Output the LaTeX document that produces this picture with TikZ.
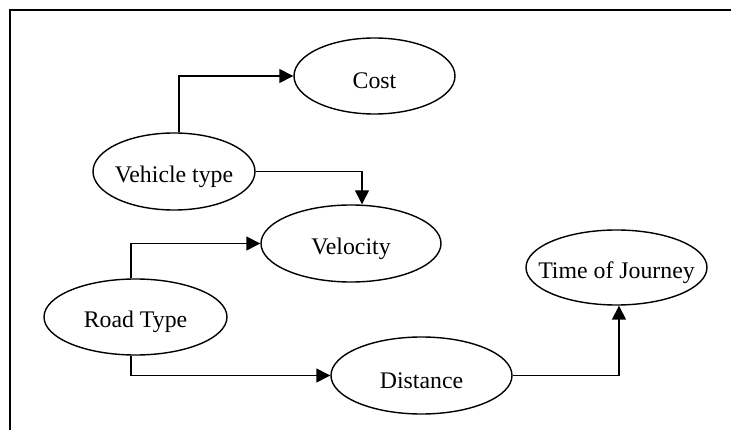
\documentclass[tikz,border=0pt]{standalone}
\usepackage{fontspec}
\setmainfont{Liberation Serif}
\usetikzlibrary{shapes.geometric,arrows.meta}
\begin{document}
\begin{tikzpicture}[x=1pt,y=-1pt,
  bubble/.style={draw,ellipse,line width=1.4pt,inner sep=0pt},
  tag/.style={font=\fontsize{23.8}{28}\selectfont,yshift=-5pt,inner sep=0pt},
  link/.style={line width=1.4pt,-{Triangle[length=14pt,width=14pt]}}]
  \useasboundingbox (0,0) rectangle (731,430);
  % open frame (top and left edges)
  \draw[line width=1.4pt] (10,430) -- (10,10) -- (731,10);
  % factors: fixed-size ellipses with centred captions
  \node[bubble,minimum width=161pt,minimum height=76pt,
        label={[tag]center:Cost}] (cost) at (374.5,76) {};
  \node[bubble,minimum width=162pt,minimum height=77pt,
        label={[tag]center:Vehicle type}] (veh) at (174,171.5) {};
  \node[bubble,minimum width=180pt,minimum height=77pt,
        label={[tag]center:Velocity}] (vel) at (351,243.5) {};
  \node[bubble,minimum width=183pt,minimum height=76pt,
        label={[tag]center:Road Type}] (road) at (135.5,317) {};
  \node[bubble,minimum width=181pt,minimum height=77pt,
        label={[tag]center:Distance}] (dist) at (421.5,375.5) {};
  \node[bubble,minimum width=181pt,minimum height=75pt,
        label={[tag]center:Time of Journey}] (time) at (616.5,267.5) {};
  % dependencies
  \draw[link] ([xshift=5pt]veh.north) |- (cost.west);
  \draw[link] (veh.east) -| ([xshift=11pt]vel.north);
  \draw[link] ([xshift=-4.5pt]road.north) |- (vel.west);
  \draw[link] ([xshift=-4.5pt]road.south) |- (dist.west);
  \draw[link] (dist.east) -| ([xshift=2.5pt]time.south);
\end{tikzpicture}
\end{document}
